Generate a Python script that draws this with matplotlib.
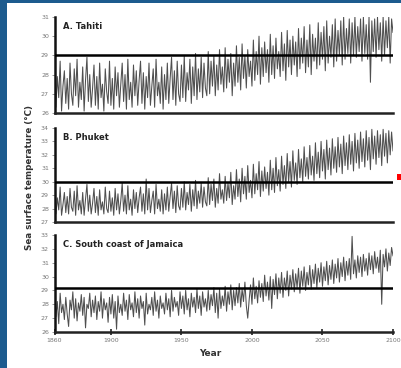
import matplotlib
matplotlib.use("Agg")
import matplotlib.pyplot as plt
from matplotlib.patches import Rectangle

# ---- data (annual 1860..2100) ----
years = list(range(1860, 2101))

tahiti = [
    28.5, 26.3, 27.9, 26.8, 28.7, 26.1, 27.4, 28.2, 26.5, 27.8,
    26.2, 28.6, 27.0, 26.4, 28.3, 26.9, 28.8, 26.3, 27.6, 26.7,
    28.4, 26.1, 27.7, 28.9, 26.6, 28.0, 26.3, 27.3, 28.5, 26.4,
    27.9, 26.2, 28.6, 26.8, 27.5, 26.1, 28.3, 27.1, 26.5, 28.7,
    26.4, 27.8, 26.2, 28.4, 26.9, 28.1, 26.3, 27.5, 28.6, 26.6,
    28.0, 26.2, 28.8, 26.7, 27.6, 26.3, 28.5, 26.9, 28.2, 26.4,
    27.7, 28.7, 26.5, 28.1, 26.2, 27.9, 26.8, 28.6, 26.4, 27.4,
    28.3, 26.3, 28.8, 26.9, 27.6, 26.5, 28.4, 26.2, 28.0, 26.7,
    28.6, 26.5, 27.8, 28.9, 26.7, 28.2, 26.4, 28.7, 27.0, 26.6,
    28.5, 26.8, 29.0, 26.6, 28.1, 27.2, 28.8, 26.5, 28.4, 26.9,
    29.1, 26.7, 28.3, 27.1, 28.9, 26.8, 28.6, 27.3, 26.9, 29.2,
    27.0, 28.7, 27.4, 29.0, 26.9, 28.5, 27.2, 29.3, 27.5, 28.4,
    27.1, 29.4, 27.3, 28.8, 27.6, 29.1, 26.9, 28.6, 27.4, 29.5,
    27.6, 28.9, 27.2, 29.6, 27.8, 29.0, 27.3, 29.3, 27.9, 28.7,
    27.4, 29.8, 27.7, 29.2, 28.0, 30.0, 27.5, 29.4, 27.9, 29.7,
    28.1, 29.3, 27.6, 30.1, 28.0, 29.5, 27.8, 29.9, 28.3, 29.2,
    27.9, 30.2, 28.2, 29.6, 27.7, 30.3, 28.4, 29.8, 28.0, 30.0,
    28.5, 29.7, 27.9, 30.4, 28.3, 29.9, 28.6, 30.5, 28.1, 29.8,
    28.4, 30.6, 28.0, 30.1, 28.7, 29.9, 28.3, 30.7, 28.5, 30.2,
    28.8, 30.5, 28.2, 30.8, 28.6, 30.0, 28.9, 30.6, 28.4, 30.9,
    28.7, 30.3, 29.0, 30.8, 28.5, 31.0, 28.8, 30.4, 29.1, 30.9,
    28.6, 30.7, 29.0, 31.0, 28.9, 30.5, 29.2, 30.9, 28.7, 31.0,
    29.1, 30.6, 28.8, 31.0, 27.6, 30.8, 29.2, 30.9, 28.9, 31.0,
    29.3, 30.7, 28.7, 31.0, 29.0, 30.8, 29.4, 31.0, 28.6, 30.9,
    30.2,
]

phuket = [
    29.4, 27.6, 28.8, 27.9, 29.6, 27.5, 28.3, 29.2, 27.7, 28.9,
    27.6, 29.5, 28.1, 27.8, 29.3, 27.5, 29.7, 27.9, 28.6, 27.6,
    29.2, 27.5, 28.7, 29.8, 27.8, 29.0, 27.6, 28.4, 29.5, 27.7,
    28.9, 27.5, 29.4, 27.9, 28.5, 27.6, 29.6, 28.0, 27.7, 29.3,
    27.8, 28.8, 27.5, 29.5, 27.9, 29.1, 27.6, 28.6, 29.9, 27.8,
    29.0, 27.6, 29.7, 27.9, 28.7, 27.5, 29.4, 28.0, 29.2, 27.7,
    28.8, 29.6, 27.8, 29.1, 27.6, 30.2, 27.9, 29.5, 27.7, 28.6,
    29.3, 27.6, 29.8, 28.0, 28.7, 27.8, 29.4, 27.6, 29.1, 27.9,
    29.6, 27.8, 28.9, 29.9, 28.0, 29.3, 27.7, 29.7, 28.2, 27.9,
    29.5, 28.1, 30.0, 27.9, 29.2, 28.3, 29.8, 27.8, 29.4, 28.2,
    30.1, 28.0, 29.3, 28.4, 29.9, 28.1, 29.6, 28.5, 28.2, 30.3,
    28.3, 29.8, 28.6, 30.2, 28.1, 29.5, 28.4, 30.6, 28.7, 29.4,
    28.4, 30.4, 28.6, 29.9, 28.8, 30.7, 28.3, 29.7, 28.7, 30.9,
    28.9, 30.2, 28.5, 31.0, 29.1, 30.4, 28.7, 31.2, 29.2, 30.1,
    28.8, 31.3, 29.1, 30.6, 29.4, 31.5, 28.9, 30.8, 29.3, 31.1,
    29.5, 30.7, 29.0, 31.6, 29.4, 31.0, 29.2, 31.8, 29.7, 30.9,
    29.3, 31.9, 29.8, 31.2, 29.5, 32.1, 30.0, 31.5, 29.6, 32.3,
    30.1, 31.4, 29.8, 32.4, 30.3, 31.7, 30.0, 32.6, 30.4, 31.8,
    30.2, 32.7, 30.5, 31.9, 30.1, 32.9, 30.6, 32.2, 30.3, 33.0,
    30.8, 32.4, 30.2, 33.1, 30.9, 32.5, 30.5, 33.2, 31.0, 32.6,
    30.7, 33.3, 31.1, 32.8, 30.6, 33.4, 31.2, 32.9, 30.9, 33.5,
    31.3, 33.0, 30.8, 33.6, 31.4, 33.1, 31.0, 33.7, 31.5, 33.2,
    31.1, 33.8, 31.6, 33.3, 30.9, 33.9, 31.7, 33.4, 31.3, 33.8,
    31.8, 33.5, 31.2, 33.9, 31.9, 33.6, 31.4, 33.8, 32.0, 33.7,
    32.3,
]

jamaica = [
    28.6, 27.1, 28.2, 26.6, 28.8, 27.4, 28.0, 26.9, 28.5, 27.3,
    26.4, 28.3, 27.6, 28.9, 27.0, 28.4, 26.8, 28.1, 27.5, 28.7,
    27.2, 28.5, 26.3, 28.0, 27.7, 28.8, 27.1, 28.3, 27.4, 28.6,
    26.9, 28.2, 27.5, 28.9, 27.0, 28.4, 27.6, 28.1, 26.7, 28.5,
    27.3, 28.7, 27.0, 28.2, 26.2, 28.6, 27.4, 28.0, 27.2, 28.8,
    27.5, 28.3, 26.9, 28.7, 27.6, 28.1, 27.1, 28.9, 27.4, 28.4,
    27.0, 28.6, 27.7, 28.2, 26.5, 28.8, 27.3, 28.0, 27.6, 28.5,
    27.2, 28.9, 27.5, 28.3, 27.0, 28.6, 27.7, 28.1, 27.3, 28.8,
    27.6, 28.4, 27.1, 29.0, 27.5, 28.5, 27.8, 28.2, 27.2, 28.9,
    27.7, 28.6, 27.3, 29.0, 27.6, 28.4, 27.1, 28.8, 27.8, 28.5,
    27.4, 29.1, 27.7, 28.6, 27.2, 28.9, 27.8, 28.4, 27.5, 29.0,
    27.6, 28.7, 27.9, 29.2, 27.4, 28.8, 27.0, 29.1, 27.7, 28.6,
    27.9, 29.3, 27.5, 28.9, 28.0, 29.4, 27.6, 29.0, 27.9, 29.2,
    28.1, 29.5, 27.8, 29.1, 28.2, 29.6, 27.9, 27.0, 28.3, 29.4,
    28.0, 29.9, 28.4, 29.3, 28.1, 29.7, 28.5, 29.5, 28.2, 30.1,
    28.6, 29.6, 28.3, 30.0, 27.7, 29.8, 28.7, 30.2, 28.4, 29.9,
    28.8, 30.3, 28.5, 29.9, 29.0, 30.4, 28.6, 30.1, 29.1, 30.5,
    28.9, 30.2, 29.2, 30.6, 28.8, 30.4, 29.3, 30.7, 29.0, 30.3,
    29.4, 30.8, 29.1, 30.5, 29.5, 30.9, 29.2, 30.6, 29.6, 31.0,
    29.3, 30.7, 29.7, 31.1, 29.4, 30.8, 29.8, 31.2, 29.5, 30.9,
    29.9, 31.3, 29.6, 31.0, 30.0, 31.4, 29.7, 31.1, 30.1, 31.3,
    29.8, 32.9, 30.2, 31.2, 29.9, 31.5, 30.3, 31.4, 30.0, 31.6,
    30.4, 31.3, 30.1, 31.7, 30.5, 31.5, 30.2, 31.8, 30.6, 31.4,
    30.3, 31.9, 28.0, 31.6, 30.7, 32.0, 30.4, 31.7, 30.8, 32.1,
    31.5,
]

panel_titles = ["A. Tahiti", "B. Phuket", "C. South coast of Jamaica"]
thresholds = [29.0, 30.0, 29.2]
ylims = [(26, 31), (27, 34), (26, 33)]
xticks = [1860, 1900, 1950, 2000, 2050, 2100]
series = [tahiti, phuket, jamaica]

# ---- figure ----
W, H = 401, 368
fig = plt.figure(figsize=(W / 100, H / 100), dpi=100)
fig.patch.set_facecolor("#1d5b8e")

bg = fig.add_axes([0, 0, 1, 1], zorder=-10)
bg.set_xlim(0, W)
bg.set_ylim(H, 0)
bg.axis("off")
bg.add_patch(Rectangle((7, 3), W - 7, H - 3, facecolor="white", edgecolor="none"))
bg.add_patch(Rectangle((396.5, 174), 4.5, 6, facecolor="#ff0000", edgecolor="none"))

left_px, right_px = 54.5, 393
rects = [(17, 113), (128, 222), (235, 332)]  # top/bottom pixel of y-range

for i, (top, bot) in enumerate(rects):
    ax = fig.add_axes([left_px / W, (H - bot) / H, (right_px - left_px) / W, (bot - top) / H], zorder=1)
    ax.set_facecolor("none")
    ax.plot(years, series[i], color="#4f4f4f", lw=0.75, zorder=2)
    ax.axhline(thresholds[i], color="black", lw=1.8, zorder=3)
    ax.set_xlim(1860, 2100)
    ax.set_ylim(*ylims[i])
    for s in ["top", "right"]:
        ax.spines[s].set_visible(False)
    ax.spines["left"].set_linewidth(1.8)
    ax.spines["bottom"].set_linewidth(1.8)
    ax.spines["left"].set_color("#111111")
    ax.spines["bottom"].set_color("#222222")
    ax.set_yticks(range(ylims[i][0], ylims[i][1] + 1))
    ax.tick_params(axis="y", labelsize=4.5, labelcolor="#777777", color="#888888",
                   length=2, width=0.6, pad=2)
    if i < 2:
        ax.set_xticks([])
    else:
        ax.set_xticks(xticks)
        ax.tick_params(axis="x", direction="inout", length=5, width=1.2, color="#222222",
                       labelsize=4.5, labelcolor="#777777", pad=2)
    ax.text(0.024, 0.95, panel_titles[i], transform=ax.transAxes, fontsize=6,
            fontweight="bold", color="#222222", va="top", ha="left")

fig.text(210 / W, 1 - 354 / H, "Year", fontsize=6.5, fontweight="bold", color="#333333",
         ha="center", va="center")
fig.text(29 / W, 1 - 178 / H, "Sea surface temperature (°C)", fontsize=6.3, fontweight="bold",
         color="#333333", rotation=90, ha="center", va="center")

fig.savefig("out.png", dpi=100, facecolor=fig.get_facecolor())
